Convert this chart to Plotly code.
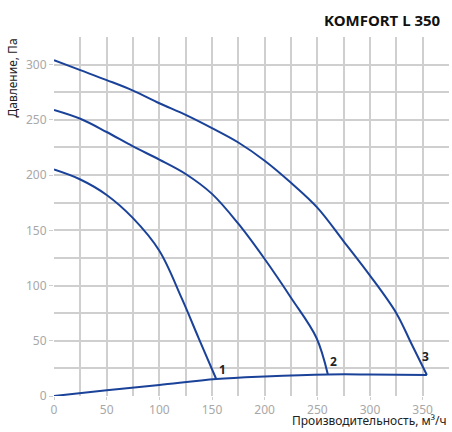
import plotly.graph_objects as go

# Fan curves (flow m3/h, pressure Pa)
c1_x = [0, 25, 50, 75, 100, 121, 137.5, 154]
c1_y = [205, 196, 182, 161, 131.5, 89, 52, 15.4]
c2_x = [0, 25, 50, 75, 100, 125, 150, 175, 200, 225, 249, 260]
c2_y = [259, 251, 239, 226, 214, 201, 183, 156, 124, 89, 53, 19.5]
c3_x = [0, 25, 50, 75, 100, 125, 150, 175, 200, 225, 250, 275, 300, 325, 339, 354]
c3_y = [304, 295, 286, 276.5, 265, 254.5, 242.5, 229.5, 213, 193, 170.5, 140, 109, 75, 48, 19]
sys_x = [0, 50, 100, 154, 200, 260, 300, 354]
sys_y = [0, 5.2, 10, 15.4, 17.7, 19.5, 19.5, 19]

labels = ["1", "2", "3"]
label_x = [160, 265, 353]
label_y = [24, 31, 36]

xticks = [0, 50, 100, 150, 200, 250, 300, 350]
yticks = [0, 50, 100, 150, 200, 250, 300]

title = "KOMFORT L 350"
xtitle = "Производительность, м³/ч"
ytitle = "Давление, Па"

LINE = "#1a4299"
FONT = "Noto Sans"

fig = go.Figure()
for xs, ys in [(c1_x, c1_y), (c2_x, c2_y), (c3_x, c3_y), (sys_x, sys_y)]:
    fig.add_trace(go.Scatter(x=xs, y=ys, mode="lines",
                             line=dict(color=LINE, width=2, shape="spline", smoothing=1.0),
                             hoverinfo="skip", showlegend=False))

for t, x, y in zip(labels, label_x, label_y):
    fig.add_annotation(x=x, y=y, text=f"<b>{t}</b>", showarrow=False,
                       font=dict(family=FONT, size=12, color="#222"))

fig.add_annotation(xref="paper", yref="paper", x=0.985, y=1.0, yshift=17,
                   xanchor="right", yanchor="middle", text=f"<b>{title}</b>",
                   showarrow=False, font=dict(family=FONT, size=15, color="#111"))
fig.add_annotation(xref="paper", yref="paper", x=1.0, y=0, yshift=-35,
                   xanchor="right", yanchor="bottom", text=xtitle,
                   showarrow=False, font=dict(family=FONT, size=12, color="#222"))
fig.add_annotation(xref="paper", yref="paper", x=0, xshift=-42, y=1.0,
                   xanchor="center", yanchor="top", text=ytitle, textangle=-90,
                   showarrow=False, font=dict(family=FONT, size=12, color="#222"))

fig.update_layout(
    width=452, height=432,
    margin=dict(l=54, r=3, t=37, b=36),
    plot_bgcolor="white", paper_bgcolor="white",
    font=dict(family=FONT),
    xaxis=dict(range=[0, 375], tickvals=xticks,
               showgrid=True, gridcolor="#cfcfcf", gridwidth=1.5,
               zeroline=False, ticks="outside", ticklen=3, tickcolor="#cfcfcf",
               tickfont=dict(size=12, color="#a8a8a8", family=FONT),
               minor=dict(dtick=25, showgrid=True, gridcolor="#cfcfcf", gridwidth=1.5),
               showline=False, automargin=False),
    yaxis=dict(range=[0, 325], tickvals=yticks,
               showgrid=True, gridcolor="#cfcfcf", gridwidth=1.5,
               zeroline=False, ticks="outside", ticklen=4, tickcolor="#cfcfcf",
               tickfont=dict(size=12, color="#a8a8a8", family=FONT),
               minor=dict(dtick=25, showgrid=True, gridcolor="#cfcfcf", gridwidth=1.5),
               showline=False, automargin=False),
)

fig.write_html("out.html", config={"displayModeBar": False},
               post_script="document.body.style.margin='0';document.body.style.overflow='hidden';")
